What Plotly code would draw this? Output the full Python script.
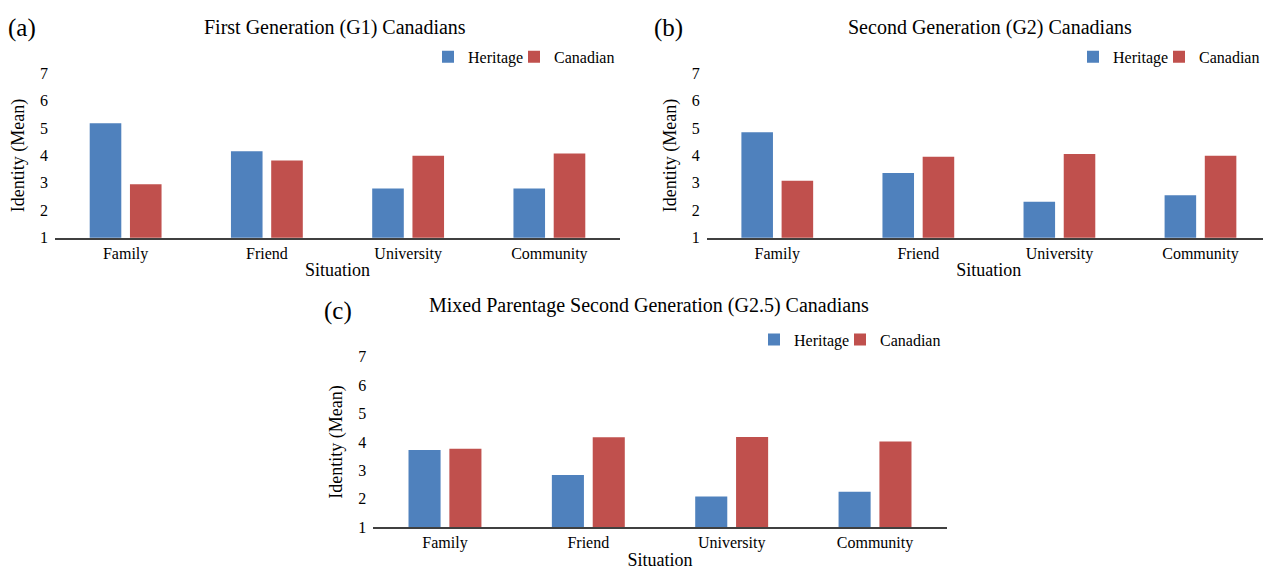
import plotly.graph_objects as go

situations = ["Family", "Friend", "University", "Community"]

g1_heritage = [5.17, 4.15, 2.80, 2.80]
g1_canadian = [2.95, 3.81, 3.99, 4.07]

g2_heritage = [4.84, 3.36, 2.31, 2.55]
g2_canadian = [3.08, 3.95, 4.05, 3.99]

g25_heritage = [3.72, 2.84, 2.08, 2.25]
g25_canadian = [3.76, 4.17, 4.18, 4.02]

series_names = ["Heritage", "Canadian"]
panel_titles = [
    "First Generation (G1) Canadians",
    "Second Generation (G2) Canadians",
    "Mixed Parentage Second Generation (G2.5) Canadians",
]
panel_letters = ["(a)", "(b)", "(c)"]
y_ticks = [1, 2, 3, 4, 5, 6, 7]

COLORS = ["#4F81BD", "#C0504D"]
FONT = "Liberation Serif"
PAGE_MARGIN = 8  # default body margin of the html page
W, H = 1271 - PAGE_MARGIN, 576 - PAGE_MARGIN

def px(x):
    return (x - PAGE_MARGIN) / W

def py(y):
    return 1 - (y - PAGE_MARGIN) / H

fig = go.Figure()

panel_data = [
    (g1_heritage, g1_canadian),
    (g2_heritage, g2_canadian),
    (g25_heritage, g25_canadian),
]
for i, pair in enumerate(panel_data):
    sfx = "" if i == 0 else str(i + 1)
    for j, vals in enumerate(pair):
        k = 2 * i + j + 1
        lg = "legend" if k == 1 else "legend" + str(k)
        fig.add_trace(go.Bar(x=situations, y=vals, name=series_names[j],
                             marker_color=COLORS[j], marker_line_width=0,
                             showlegend=True,
                             xaxis="x" + sfx, yaxis="y" + sfx, legend=lg))

# pixel layout of each panel in page coordinates: (x0, x1, ytop, ybottom)
boxes = [(55, 620, 66.7, 236.7), (706.75, 1272, 66.7, 236.7), (373.3, 946.7, 359.3, 535)]

axis_common = dict(showgrid=False, zeroline=False)
for i, (x0, x1, yt, yb) in enumerate(boxes):
    sfx = "" if i == 0 else str(i + 1)
    fig.layout["xaxis" + sfx] = dict(
        domain=[px(x0), min(px(x1), 1.0)], anchor="y" + sfx, type="category",
        showline=True, linecolor="#404040", linewidth=1.6, ticks="",
        tickfont=dict(family=FONT, size=16, color="black"),
        title=dict(text="Situation", font=dict(family=FONT, size=18, color="black"), standoff=2),
        **axis_common)
    fig.layout["yaxis" + sfx] = dict(
        domain=[py(yb), py(yt)], anchor="x" + sfx, range=[1, 7], tickvals=y_ticks,
        showline=False, ticks="", ticklabelstandoff=6,
        tickfont=dict(family=FONT, size=16, color="black"),
        title=dict(text="Identity (Mean)", font=dict(family=FONT, size=18, color="black"), standoff=10),
        **axis_common)

# left edge (page px) and vertical centre of each legend entry
legend_pos = [(428, 50), (514, 50), (1073, 50), (1159, 50), (754, 341.7), (840, 341.7)]
for k, (lx, ly) in enumerate(legend_pos, start=1):
    name = "legend" if k == 1 else "legend" + str(k)
    fig.layout[name] = dict(
        x=px(lx), y=py(ly), xanchor="left", yanchor="middle", orientation="h",
        font=dict(family=FONT, size=16, color="black"), bgcolor="rgba(0,0,0,0)",
        itemwidth=30)

title_pos = [(335, 20), (990, 20), (649, 306.7)]
letter_pos = [(22, 20), (668, 20), (338, 312)]
annotations = []
for t, (tx, ty), l, (lx, ly) in zip(panel_titles, title_pos, panel_letters, letter_pos):
    annotations.append(dict(text=t, x=px(tx), y=py(ty), xref="paper", yref="paper",
                            xanchor="center", yanchor="middle", showarrow=False,
                            font=dict(family=FONT, size=20, color="black")))
    annotations.append(dict(text=l, x=px(lx), y=py(ly), xref="paper", yref="paper",
                            xanchor="center", yanchor="middle", showarrow=False,
                            font=dict(family=FONT, size=25, color="black")))

fig.update_layout(
    width=W, height=H, autosize=False,
    margin=dict(l=0, r=0, t=0, b=0),
    paper_bgcolor="white", plot_bgcolor="white",
    showlegend=True,
    barmode="group", bargap=0.43, bargroupgap=0.215,
    annotations=annotations,
    font=dict(family=FONT, color="black"),
)

fig.write_html("out.html")
